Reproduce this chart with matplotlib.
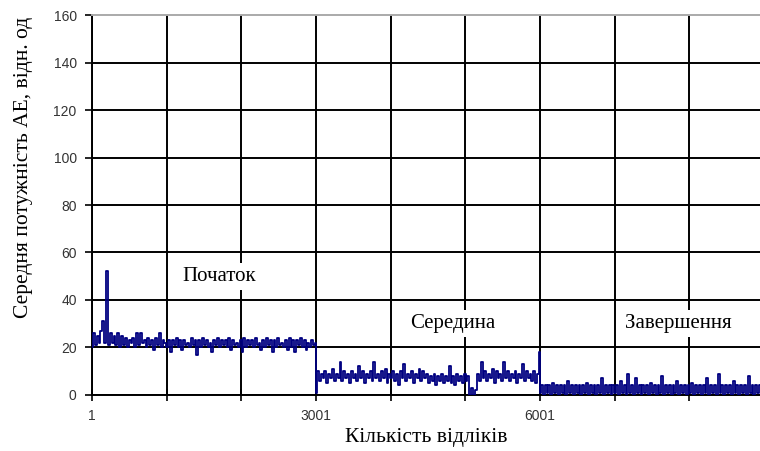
import matplotlib
matplotlib.use("Agg")
import matplotlib.pyplot as plt
import numpy as np

# Hand-read values of the averaged AE power, one value per ~25 samples
start_vals = [
    20, 26, 21, 25, 22, 27, 31, 22, 52, 21, 26, 22, 25, 21, 26, 20, 25,
    21, 24, 20, 23, 22, 24, 20, 26, 21, 26, 22, 23, 20, 24, 21, 23, 19, 24, 21, 26, 20, 23, 22,
    20, 23, 18, 23, 21, 24, 20, 23, 19, 23, 21, 22, 20, 24, 21, 23, 17, 23, 20, 24,
    21, 23, 20, 22, 18, 23, 21, 24, 20, 23, 21, 23, 20, 24, 19, 23, 21, 22, 20, 23,
    18, 24, 20, 23, 21, 23, 20, 24, 21, 22, 19, 23, 20, 24, 21, 23, 18, 23, 20, 24,
    21, 22, 20, 23, 19, 24, 20, 23, 18, 23, 21, 24, 20, 23, 19, 22, 20, 23, 21, 22,
]
middle_vals = [
    1, 10, 6, 9, 7, 10, 5, 9, 7, 11, 6, 9, 7, 14, 6, 10, 7, 9, 5, 10,
    7, 9, 6, 12, 7, 10, 5, 9, 7, 10, 6, 14, 7, 9, 6, 10, 7, 11, 5, 9,
    7, 10, 6, 9, 4, 10, 7, 13, 6, 9, 7, 10, 5, 9, 7, 11, 6, 10, 7, 9,
    5, 8, 6, 9, 4, 8, 6, 9, 5, 8, 6, 12, 5, 8, 4, 9, 6, 8, 5, 9, 6, 8,
    0, 3, 0, 2,
    9, 6, 14, 7, 10, 6, 9, 7, 11, 5, 10, 7, 9, 6, 14, 7, 10, 6, 9, 7,
    10, 5, 9, 7, 13, 6, 10, 7, 9, 6, 10, 5, 9, 18,
]
end_vals = [
    1, 4, 0, 4, 1, 4, 0, 5, 1, 4, 0, 4, 1, 4, 0, 6, 1, 4, 0, 4,
    1, 4, 0, 4, 1, 5, 0, 4, 1, 4, 0, 4, 1, 7, 0, 4, 1, 4, 0, 4,
    1, 4, 0, 6, 1, 4, 0, 9, 1, 4, 0, 7, 1, 4, 0, 4, 1, 4, 0, 5,
    1, 4, 0, 4, 1, 8, 0, 4, 1, 4, 0, 4, 1, 6, 0, 4, 1, 4, 0, 4,
    1, 5, 0, 4, 1, 4, 0, 4, 1, 7, 0, 4, 1, 4, 0, 9, 1, 4, 0, 4,
    1, 4, 0, 6, 1, 4, 0, 4, 1, 4, 0, 8, 1, 4, 0, 4, 1, 4,
]
segment_bounds = [(1, 3000), (3001, 6000), (6001, 8947)]
stage_labels = ["Початок", "Середина", "Завершення"]
stage_pos = [(1700, 50), (4830, 30), (7850, 30)]

x_ticks = list(range(1, 9000, 1000))
x_tick_labels = ["1", "", "", "3001", "", "", "6001", "", ""]
y_ticks = list(range(0, 161, 20))

xs, ys = [], []
for vals, (a, b) in zip([start_vals, middle_vals, end_vals], segment_bounds):
    xs.append(np.linspace(a, b, len(vals)))
    ys.append(np.array(vals, dtype=float))
x = np.concatenate(xs)
y = np.concatenate(ys)

serif = "Liberation Serif"
fig = plt.figure(figsize=(7.6, 4.51), dpi=100)
ax = fig.add_axes([0.121, 0.1242, 0.879, 0.8425])

# steps give the dense, filled band look of the original trace
ax.plot(x, y, color="#000080", linewidth=1.3, drawstyle="steps-mid", zorder=3)

ax.set_xlim(1, 8947)
ax.set_ylim(0, 160)
ax.set_xticks(x_ticks)
ax.set_xticklabels(x_tick_labels)
ax.set_yticks(y_ticks)
ax.grid(True, color="black", linewidth=1.4)
ax.set_axisbelow(True)
ax.get_ygridlines()[-1].set_visible(False)

ax.spines["right"].set_visible(False)
ax.spines["top"].set_color("#aaaaaa")
ax.spines["top"].set_linewidth(1.4)
ax.spines["left"].set_linewidth(1.4)
ax.spines["bottom"].set_linewidth(1.4)

ax.tick_params(axis="y", direction="out", length=5, width=1.2, pad=6,
               labelsize=10, labelcolor="#333333")
ax.tick_params(axis="x", direction="inout", length=8, width=1.2, pad=6,
               labelsize=10, labelcolor="#333333")
for lbl in ax.get_xticklabels() + ax.get_yticklabels():
    lbl.set_family("Liberation Sans")

for text, (tx, ty) in zip(stage_labels, stage_pos):
    ax.text(tx, ty, text, fontsize=15, family=serif, ha="center", va="center",
            bbox=dict(facecolor="white", edgecolor="none", pad=3), zorder=4)

ax.set_xlabel("Кількість відліків", fontsize=15.5, family=serif, labelpad=4)
ax.set_ylabel("Середня потужність АЕ, відн. од", fontsize=15.5, family=serif)
ax.yaxis.set_label_coords(-0.088, 0.6)

fig.savefig("out.png", dpi=100)
